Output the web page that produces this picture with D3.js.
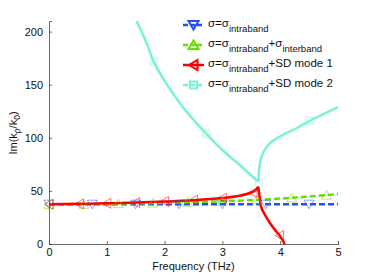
<!DOCTYPE html>
<html><head><meta charset="utf-8">
<script src="https://cdn.jsdelivr.net/npm/d3@7"></script>
<style>body{margin:0;background:#fff}svg{display:block}text{font-family:"Liberation Sans",Arial,sans-serif}</style>
</head><body><svg id="c" width="374" height="275"></svg>
<script>
// ---- data ----
const xTicks = [0,1,2,3,4,5];
const yTicks = [0,50,100,150,200];
const intraX = [0,1,2,3,4,5];
const intraY = [37.5,37.5,37.5,37.5,37.5,37.5];
const intraMkX = [0,0.75,1.5,2.25,3.0,3.75,4.5];
const intraMkY = [37.5,37.5,37.5,37.5,37.5,37.5,37.5];
const interX = [0,0.5,1,1.5,2,2.5,3,3.5,4,4.5,5];
const interY = [37,37.3,37.8,38.3,38.8,39.5,40.3,41.3,42.8,44.7,47];
const interMkX = [0,0.6,1.2,1.8,2.4,3.0,3.6,4.2,4.8];
const interMkY = [37,37.4,38,38.6,39.4,40.3,41.5,43.3,46];
const sd1X = [0,0.5,1,1.5,2,2.5,3,3.3,3.5,3.58,3.62,3.645,3.67,3.72,3.82,3.9,3.99,4.08];
const sd1Y = [37.5,37.8,38.3,39,40,41.3,43.3,45.5,48.5,51,54,44,35,29,20,14,8,0];
const sd1MkX = [0,0.53,1.0,1.5,2.0,2.5,3.0,3.53,3.99];
const sd1MkY = [37.5,37.8,38.3,39,40,41.3,43.3,48.5,8];
const sd2X = [1.515,1.69,1.81,2.03,2.3,2.5,2.72,3.0,3.3,3.59,3.625,3.64,3.7,3.82,3.99,4.33,4.51,5];
const sd2Y = [210,189,172,151,130,117,104,88.5,74.4,60.3,59,72.8,85.4,94.8,101,110.4,116,129];
const sd2MkX = [1.81,2.72,3.63,4.51];
const sd2MkY = [172,104,58,116];

const colors = {intra:"#2450f0", inter:"#66e000", sd1:"#ff0000", sd2:"#78f2d8"};

// ---- layout ----
const svg = d3.select("#c");
const x = d3.scaleLinear().domain([0,5]).range([49,338]);
const y = d3.scaleLinear().domain([0,210]).range([244,21]);

// axes
const axCol = "#444";
const gx = svg.append("g").attr("transform","translate(0,244)")
  .call(d3.axisBottom(x).tickValues(xTicks).tickSize(-3).tickPadding(4).tickFormat(d3.format("d")));
const gy = svg.append("g").attr("transform","translate(49,0)")
  .call(d3.axisLeft(y).tickValues(yTicks).tickSize(-3).tickPadding(6).tickFormat(d3.format("d")));
[gx,gy].forEach(g=>{
  g.select(".domain").attr("stroke",axCol).attr("stroke-width",0.8);
  g.selectAll(".tick line").attr("stroke",axCol).attr("stroke-width",0.8);
  g.selectAll(".tick text").attr("fill","#111").style("font-size","11px").style("font-family","'Liberation Sans',Arial,sans-serif");
});

// axis labels
svg.append("text").attr("x",(x(0)+x(5))/2).attr("y",270).attr("text-anchor","middle")
  .style("font-size","11px").attr("fill","#111").text("Frequency (THz)");
const yl = svg.append("text").attr("transform","translate(17,133) rotate(-90)").attr("text-anchor","middle")
  .style("font-size","11px").attr("fill","#111");
yl.append("tspan").text("Im(k");
yl.append("tspan").attr("dy",3).style("font-size","8.5px").text("ρ");
yl.append("tspan").attr("dy",-3).text("/k");
yl.append("tspan").attr("dy",3).style("font-size","8.5px").text("0");
yl.append("tspan").attr("dy",-3).text(")");

// clip
svg.append("clipPath").attr("id","clip").append("rect").attr("x",x(0)-10).attr("y",y(210)).attr("width",x(5)-x(0)+20).attr("height",y(0)-y(210)+10);

const plot = svg.append("g").attr("clip-path","url(#clip)");

function pts(xs,ys){return xs.map((v,i)=>[v,ys[i]]);}
const line = d3.line().x(d=>x(d[0])).y(d=>y(d[1]));
const smooth = d3.line().x(d=>x(d[0])).y(d=>y(d[1])).curve(d3.curveCatmullRom.alpha(0.5));

// marker shapes
function tri(dir, s){ // s = half size
  if(dir==="down") return `M${-s},${-s*0.8}L${s},${-s*0.8}L0,${s*0.9}Z`;
  if(dir==="up") return `M${-s},${s*0.8}L${s},${s*0.8}L0,${-s*0.9}Z`;
  if(dir==="left") return `M${s*0.8},${-s}L${s*0.8},${s}L${-s*0.9},0Z`;
  return `M${-s},${-s}L${s},${-s}L${s},${s}L${-s},${s}Z`;
}
function markers(xs,ys,dir,col,s){
  plot.selectAll(null).data(pts(xs,ys)).enter().append("path")
    .attr("d",tri(dir,s)).attr("transform",d=>`translate(${x(d[0])},${y(d[1])})`)
    .attr("fill","none").attr("stroke",col).attr("stroke-width",0.9).attr("opacity",0.6);
}

// lines
plot.append("path").datum(pts(intraX,intraY)).attr("d",line).attr("fill","none")
  .attr("stroke",colors.intra).attr("stroke-width",2.5).attr("stroke-dasharray","6,3");
plot.append("path").datum(pts(interX,interY)).attr("d",smooth).attr("fill","none")
  .attr("stroke",colors.inter).attr("stroke-width",2.5).attr("stroke-dasharray","6,3");
const sd2 = pts(sd2X,sd2Y);
let cusp = d3.minIndex(sd2, d=>d[1]);
plot.append("path").datum(sd2.slice(0,cusp+1)).attr("d",smooth).attr("fill","none")
  .attr("stroke",colors.sd2).attr("stroke-width",2.5);
plot.append("path").datum(sd2.slice(cusp)).attr("d",smooth).attr("fill","none")
  .attr("stroke",colors.sd2).attr("stroke-width",2.5);
const sd1 = pts(sd1X,sd1Y);
let peak = d3.maxIndex(sd1, d=>d[1]);
plot.append("path").datum(sd1.slice(0,peak+1)).attr("d",smooth).attr("fill","none")
  .attr("stroke",colors.sd1).attr("stroke-width",2.5);
plot.append("path").datum(sd1.slice(peak)).attr("d",smooth).attr("fill","none")
  .attr("stroke",colors.sd1).attr("stroke-width",2.5);

markers(intraMkX,intraMkY,"down",colors.intra,5);
markers(interMkX,interMkY,"up",colors.inter,5);
markers(sd1MkX,sd1MkY,"left",colors.sd1,5);
markers(sd2MkX,sd2MkY,"square",colors.sd2,3.5);

// legend
const legend = [
  {col:colors.intra, dash:"5,2", dir:"down", parts:[["σ=σ",0],["intraband",1]]},
  {col:colors.inter, dash:"5,2", dir:"up", parts:[["σ=σ",0],["intraband",1],["+σ",0],["interband",1]]},
  {col:colors.sd1, dash:null, dir:"left", parts:[["σ=σ",0],["intraband",1],["+SD mode 1",0]]},
  {col:colors.sd2, dash:"5,2", dir:"square", parts:[["σ=σ",0],["intraband",1],["+SD mode 2",0]]}
];
const legY = [25,45,65,85];
legend.forEach((L,i)=>{
  const g = svg.append("g").attr("transform",`translate(0,${legY[i]})`);
  g.append("line").attr("x1",183).attr("x2",204).attr("y1",0).attr("y2",0)
    .attr("stroke",L.col).attr("stroke-width",2.5).attr("stroke-dasharray",L.dash);
  g.append("path").attr("d",tri(L.dir,L.dir==="square"?3.5:5)).attr("transform","translate(193.5,0)")
    .attr("fill","none").attr("stroke",L.col).attr("stroke-width",2);
  const t = g.append("text").attr("x",208).attr("y",2).style("font-size","11.5px").attr("fill","#111");
  let prev = 0;
  L.parts.forEach(([s,sub])=>{
    const dy = sub? (prev?0:5) : (prev?-5:0);
    t.append("tspan").attr("dy",dy).style("font-size",sub?"9.5px":"11.5px").text(s);
    prev = sub;
  });
});
</script></body></html>
